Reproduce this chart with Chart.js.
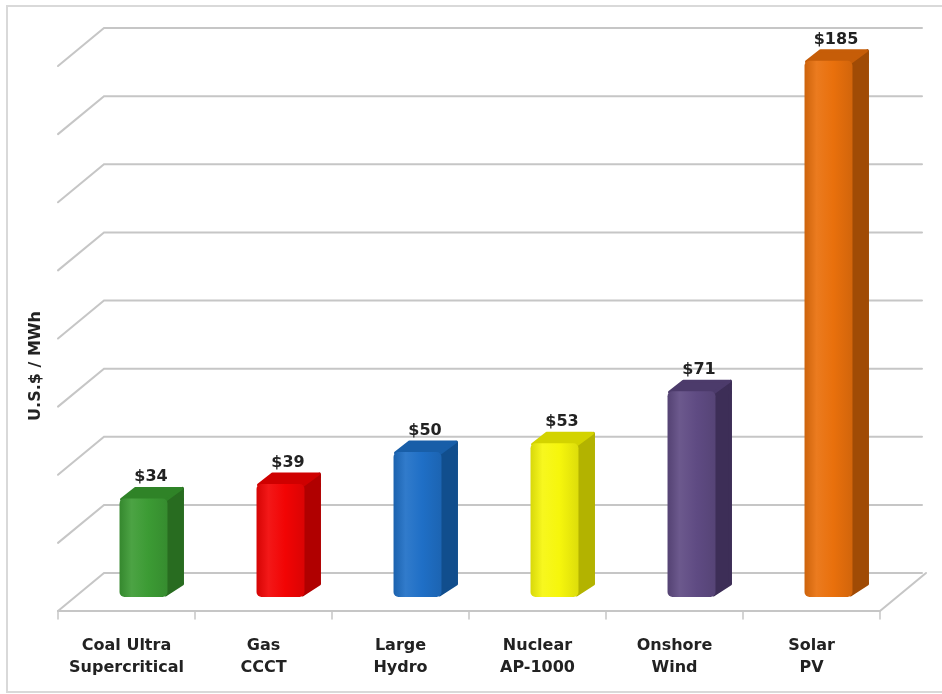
<!DOCTYPE html>
<html>
<head>
<meta charset="utf-8">
<title>Levelized cost of electricity</title>
<script src="https://cdn.jsdelivr.net/npm/chart.js@4.4.1/dist/chart.umd.min.js"></script>
<style>
  html, body { margin: 0; padding: 0; background: #fff; }
  #wrap { width: 942px; height: 694px; position: relative; }
</style>
</head>
<body>
<div id="wrap"><canvas id="lcoe" width="942" height="694"></canvas></div>
<script>
// Coste nivelado por tecnología (U.S.$ / MWh)
const categorias = [
  ['Coal Ultra', 'Supercritical'],
  ['Gas', 'CCCT'],
  ['Large', 'Hydro'],
  ['Nuclear', 'AP-1000'],
  ['Onshore', 'Wind'],
  ['Solar', 'PV']
];
const costes = [34, 39, 50, 53, 71, 185];
const etiquetas = ['$34', '$39', '$50', '$53', '$71', '$185'];
const tituloEje = 'U.S.$ / MWh';

// colores de cada barra: frente, lateral, tapa
const colores = [
  { front: '#3c9b34', side: '#286c20', top: '#2f8327' },
  { front: '#f20404', side: '#b00000', top: '#cf0000' },
  { front: '#1f6fc6', side: '#114e8d', top: '#185ea8' },
  { front: '#f6f60c', side: '#b3b300', top: '#d3d300' },
  { front: '#5f4b83', side: '#3d2e57', top: '#4c3b6b' },
  { front: '#e9700c', side: '#a04b05', top: '#c65d08' }
];

const FUENTE = "'DejaVu Sans', 'Liberation Sans', Arial, sans-serif";
const PARED = { dx: 46, dy: -38 };   // profundidad del suelo / pared del fondo
const FRENTE = { dx: 17, dy: -14 };  // desplazamiento de la cara frontal de las barras
const CUERPO = { dx: 15, dy: -11 };  // grosor de cada barra

function poly(ctx, pts) {
  ctx.beginPath();
  ctx.moveTo(pts[0][0], pts[0][1]);
  for (let i = 1; i < pts.length; i++) ctx.lineTo(pts[i][0], pts[i][1]);
  ctx.closePath();
}

function aclarar(hex, f) {
  const n = parseInt(hex.slice(1), 16);
  let r = (n >> 16) & 255, g = (n >> 8) & 255, b = n & 255;
  const m = v => Math.max(0, Math.min(255, Math.round(f >= 0 ? v + (255 - v) * f : v * (1 + f))));
  return `rgb(${m(r)},${m(g)},${m(b)})`;
}

const cubo3d = {
  id: 'cubo3d',
  beforeDraw(chart) {
    const { ctx, chartArea: a, scales } = chart;
    ctx.save();
    ctx.fillStyle = '#fff';
    ctx.fillRect(0, 0, chart.width, chart.height);
    // marco exterior
    ctx.strokeStyle = '#d9d9d9';
    ctx.lineWidth = 2;
    ctx.strokeRect(7, 6, chart.width - 6, chart.height - 8);

    // pared izquierda y del fondo
    ctx.strokeStyle = '#c6c6c6';
    ctx.lineWidth = 2;
    ctx.lineCap = 'round';
    const y = scales.y;
    y.ticks.forEach(t => {
      const py = y.getPixelForValue(t.value);
      ctx.beginPath();
      ctx.moveTo(a.left, py);
      ctx.lineTo(a.left + PARED.dx, py + PARED.dy);
      ctx.lineTo(a.right + PARED.dx - 4, py + PARED.dy);
      ctx.stroke();
    });
    // borde delantero del suelo
    ctx.beginPath();
    ctx.moveTo(a.left, a.bottom);
    ctx.lineTo(a.right, a.bottom);
    ctx.lineTo(a.right + PARED.dx, a.bottom + PARED.dy);
    ctx.stroke();
    // marcas entre categorías
    const paso = (a.right - a.left) / categorias.length;
    ctx.lineWidth = 1.5;
    for (let i = 0; i <= categorias.length; i++) {
      const px = a.left + i * paso;
      ctx.beginPath();
      ctx.moveTo(px, a.bottom);
      ctx.lineTo(px, a.bottom + 8);
      ctx.stroke();
    }
    ctx.restore();
  },
  afterDatasetsDraw(chart) {
    const { ctx } = chart;
    const meta = chart.getDatasetMeta(0);
    ctx.save();
    meta.data.forEach((bar, i) => {
      const c = colores[i];
      const x0 = bar.x - bar.width / 2 + FRENTE.dx;
      const x1 = bar.x + bar.width / 2 + FRENTE.dx;
      const yTop = bar.y + FRENTE.dy;
      const yBot = bar.base + FRENTE.dy;
      ctx.lineJoin = 'round';
      ctx.lineWidth = 3;
      // cara lateral
      ctx.fillStyle = c.side;
      ctx.strokeStyle = c.side;
      poly(ctx, [[x1 - 2, yTop + 1], [x1 + CUERPO.dx, yTop + CUERPO.dy + 1], [x1 + CUERPO.dx, yBot + CUERPO.dy - 2], [x1 - 2, yBot - 2]]);
      ctx.fill();
      ctx.stroke();
      // tapa
      ctx.fillStyle = c.top;
      ctx.strokeStyle = c.top;
      poly(ctx, [[x0 + 2, yTop + 1], [x0 + CUERPO.dx + 1, yTop + CUERPO.dy + 1], [x1 + CUERPO.dx - 1, yTop + CUERPO.dy + 1], [x1 - 1, yTop + 1]]);
      ctx.fill();
      ctx.stroke();
      // cara frontal con brillo
      const g = ctx.createLinearGradient(x0, 0, x1, 0);
      g.addColorStop(0, aclarar(c.front, -0.12));
      g.addColorStop(0.25, aclarar(c.front, 0.08));
      g.addColorStop(0.6, c.front);
      g.addColorStop(1, aclarar(c.front, -0.1));
      ctx.fillStyle = g;
      ctx.beginPath();
      ctx.roundRect(x0, yTop, x1 - x0, yBot - yTop, 5);
      ctx.fill();
      // valor encima de la barra
      ctx.fillStyle = '#222';
      ctx.font = `bold 16px ${FUENTE}`;
      ctx.textAlign = 'center';
      ctx.textBaseline = 'alphabetic';
      ctx.fillText(etiquetas[i], (x0 + x1) / 2 + CUERPO.dx / 2, yTop + CUERPO.dy - 6);
    });
    ctx.restore();
  },
  afterDraw(chart) {
    const { ctx } = chart;
    ctx.save();
    ctx.translate(36, 366);
    ctx.rotate(-Math.PI / 2);
    ctx.fillStyle = '#222';
    ctx.font = `bold 16px ${FUENTE}`;
    ctx.textAlign = 'center';
    ctx.textBaseline = 'middle';
    ctx.fillText(tituloEje, 0, 0);
    ctx.restore();
  }
};

new Chart(document.getElementById('lcoe'), {
  type: 'bar',
  data: {
    labels: categorias,
    datasets: [{
      data: costes,
      backgroundColor: 'rgba(0,0,0,0)',
      borderWidth: 0,
      barPercentage: 0.35,
      categoryPercentage: 1
    }]
  },
  options: {
    responsive: false,
    animation: false,
    layout: { padding: { left: 58, right: 62, top: 66, bottom: 0 } },
    plugins: { legend: { display: false }, tooltip: { enabled: false } },
    scales: {
      x: {
        grid: { display: false, drawTicks: false },
        border: { display: false },
        afterFit(scale) { scale.height = 83; },
        ticks: {
          color: '#222',
          padding: 24,
          maxRotation: 0,
          autoSkip: false,
          font: { family: FUENTE, weight: 'bold', size: 16, lineHeight: 1.375 }
        }
      },
      y: {
        display: false,
        min: 0,
        max: 188,
        ticks: { stepSize: 23.5 }
      }
    }
  },
  plugins: [cubo3d]
});
</script>
</body>
</html>
